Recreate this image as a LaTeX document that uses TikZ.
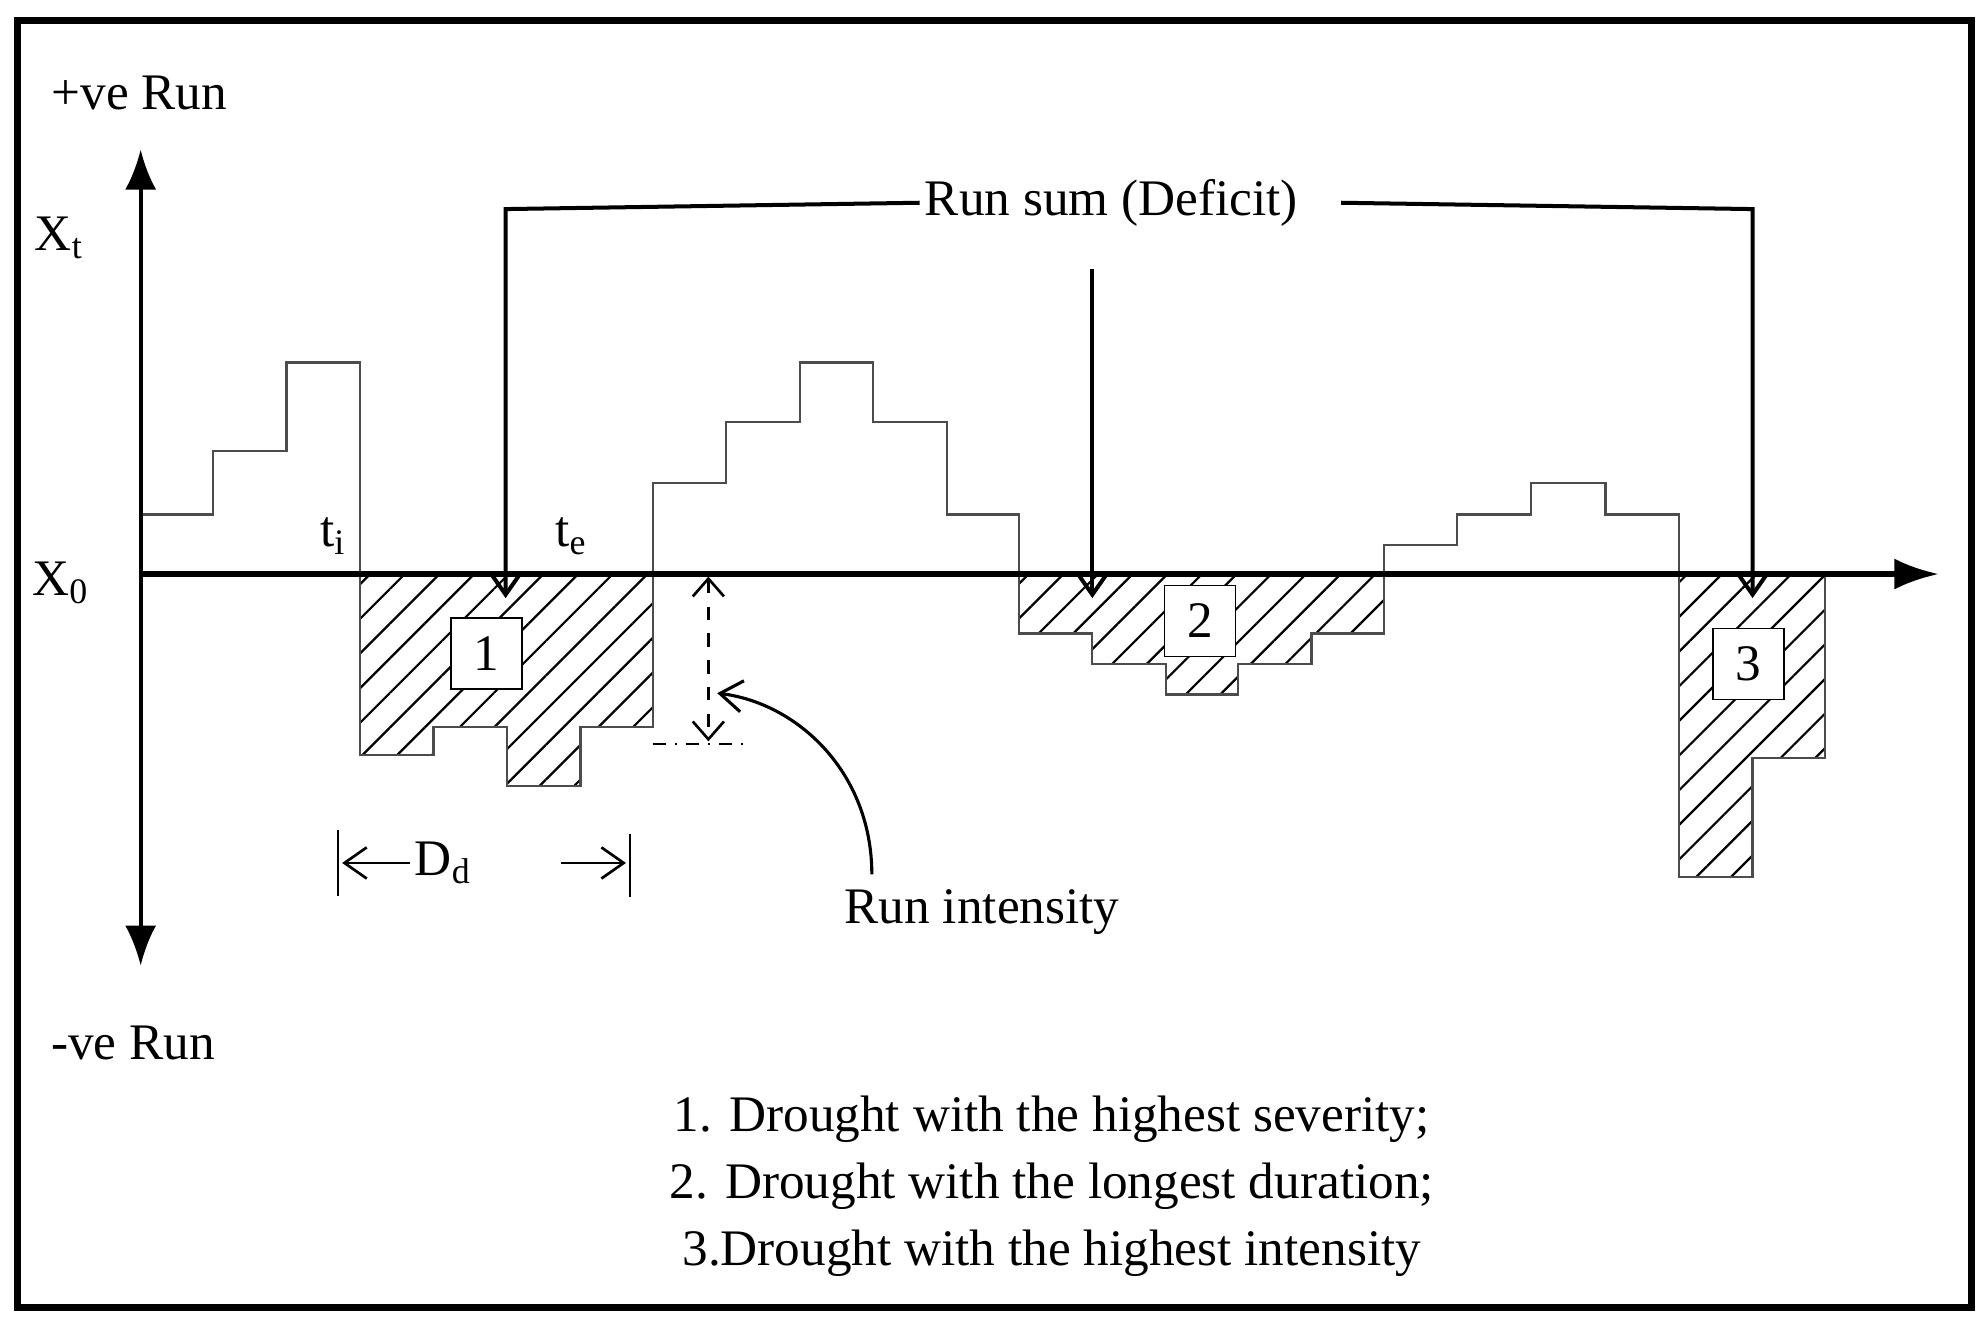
\documentclass[tikz,border=0pt]{standalone}
\usepackage{fontspec}
\setmainfont{Liberation Serif}
\usetikzlibrary{patterns.meta,arrows.meta}
\begin{document}
\begin{tikzpicture}[x=0.01cm,y=-0.01cm,
  txt/.style={font=\fontsize{11.5}{14}\selectfont,inner sep=1pt},
  hatch/.style={pattern={Lines[angle=45,distance=5.5pt,line width=0.5pt]}},
  box/.style={draw,fill=white,minimum size=0.56cm,inner sep=0pt,font=\fontsize{11.5}{14}\selectfont},
  arr/.style={-{Straight Barb[length=5pt,width=7pt]},line width=0.9pt},
  ser/.style={draw=black!70,line width=0.5pt}]
\useasboundingbox (0,0) rectangle (1568,1046);
\draw[line width=1.5pt] (14,16) rectangle (1556,1032);
% hatched deficits
\filldraw[hatch,ser] (284,453) -- (284,596) -- (342,596) -- (342,574) -- (400,574) -- (400,620) -- (458,620) -- (458,574) -- (515,574) -- (515,453) -- cycle;
\filldraw[hatch,ser] (804,453) -- (804,500) -- (862,500) -- (862,524) -- (920,524) -- (920,548) -- (977,548) -- (977,524) -- (1035,524) -- (1035,500) -- (1092,500) -- (1092,453) -- cycle;
\filldraw[hatch,ser] (1325,453) -- (1325,692) -- (1383,692) -- (1383,598) -- (1440,598) -- (1440,453) -- cycle;
% positive steps
\draw[ser] (111,406) -- (168,406) -- (168,356) -- (226,356) -- (226,286) -- (284,286) -- (284,453);
\draw[ser] (515,453) -- (515,381) -- (573,381) -- (573,333) -- (631,333) -- (631,286) -- (689,286) -- (689,333) -- (747,333) -- (747,406) -- (804,406) -- (804,453);
\draw[ser] (1092,453) -- (1092,430) -- (1150,430) -- (1150,406) -- (1208,406) -- (1208,381) -- (1267,381) -- (1267,406) -- (1325,406) -- (1325,453);
% axes
\coordinate (o) at (111,453);
\coordinate (up) at (111,118);
\coordinate (dn) at (111,762);
\coordinate (xe) at (1530,453);
\draw[arr,-{Latex[length=9pt,width=7pt]}] (o) -- (up);
\draw[arr,-{Latex[length=9pt,width=7pt]}] (o) -- (dn);
\draw[arr,line width=1.2pt,-{Latex[length=10pt,width=7pt]}] (o) -- (xe);
% labels
\node[txt] (pr) at (110,73) {+ve Run};
\node[txt] (nr) at (105,823) {-ve Run};
\node[txt] (xt) at (47,188) {X\textsubscript{t}};
\node[txt] (x0) at (48,460) {X\textsubscript{0}};
\node[txt] (ti) at (263,423) {t\textsubscript{i}};
\node[txt] (te) at (451,423) {t\textsubscript{e}};
% boxes
\node[box] (b1) at (384,516) {1};
\node[box] (b2) at (947,490) {2};
\node[box] (b3) at (1380,524) {3};
% run sum
\node[txt] (rs) at (877,160) {Run sum (Deficit)};
\coordinate (c1) at (399,165); \coordinate (a1) at (399,472);
\coordinate (c3) at (1383,165); \coordinate (a3) at (1383,472);
\coordinate (m1) at (862,212); \coordinate (a2) at (862,472);
\draw[arr] (rs.west) -- (c1) -- (a1);
\draw[arr] (rs.east) ++(30,0) -- (c3) -- (a3);
\draw[arr] (m1) -- (a2);
% run intensity
\coordinate (ri1) at (559,455); \coordinate (ri2) at (559,585);
\draw[dashed,{Straight Barb[length=4pt,width=7pt]}-{Straight Barb[length=4pt,width=7pt]},line width=0.6pt] (ri1) -- (ri2);
\coordinate (d1) at (515,587); \coordinate (d2) at (592,587);
\draw[dash dot,line width=0.4pt] (d1) -- (d2);
\node[txt] (rit) at (775,720) {Run intensity};
\coordinate (cs) at (688,690); \coordinate (ce) at (566,547);
\draw[arr,line width=0.7pt] (cs) .. controls (688,610) and (630,555) .. (ce);
% duration
\coordinate (t1a) at (267,655); \coordinate (t1b) at (267,707);
\coordinate (t2a) at (497,658); \coordinate (t2b) at (497,708);
\draw[line width=0.5pt] (t1a) -- (t1b) (t2a) -- (t2b);
\node[txt] (dd) at (350,681) {D\textsubscript{d}};
\coordinate (l1) at (270,681); \coordinate (l2) at (443,681); \coordinate (l3) at (494,681);
\draw[arr,line width=0.6pt] (dd.west) -- (l1);
\draw[arr,line width=0.6pt] (l2) -- (l3);
% legend
\node[txt,align=center] (leg) at (830,936) {1. Drought with the highest severity;\\[1pt] 2. Drought with the longest duration;\\[1pt] 3.Drought with the highest intensity};
\end{tikzpicture}
\end{document}
